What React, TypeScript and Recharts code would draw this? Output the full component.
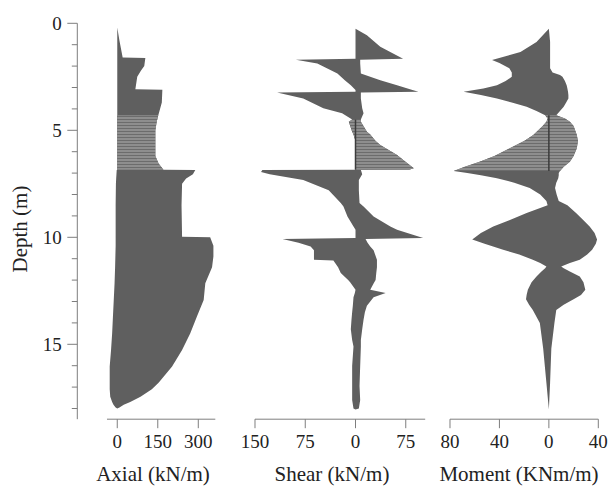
import React from 'react';
import { ComposedChart, Area, XAxis, YAxis, ReferenceLine } from 'recharts';

// depth axis (m), shared by the three panels
const depthTicks = [0, 1, 2, 3, 4, 5, 6, 7, 8, 9, 10, 11, 12, 13, 14, 15, 16, 17, 18];
const depthDomain = [0, 18.5];

// Axial (kN/m)
const axialDepth = [0.2, 0.8, 1.6, 1.62, 2.0, 2.2, 2.5, 3.08, 3.1, 3.7, 4.3, 4.6, 5.0, 6.2, 6.55, 6.84, 6.86, 7.05, 7.25, 7.5, 8.5, 9.98, 10.0, 10.4, 10.9, 11.4, 12.15, 12.93, 13.7, 14.5, 15.27, 16.04, 16.8, 17.1, 17.45, 17.7, 17.83, 17.95, 18.0];
const axialMin = [0, 0, 0, 0, 0, 0, 0, 0, 0, 0, 0, 0, 0, 0, 0, 0, -2, -3, -4, -5, -6, -6, -6, -6, -7, -8, -10, -13, -16, -19, -23, -28, -28, -28, -26, -19, -14, -6, 0];
const axialMax = [0, 8, 20, 104, 100, 88, 74, 67, 167, 165, 152, 146, 141, 141, 153, 171, 289, 280, 255, 240, 238, 240, 344, 356, 356, 351, 326, 320, 295, 270, 240, 203, 153, 128, 86, 48, 24, 8, 0];
const axialTicks = [0, 150, 300];
const axialHatch = [4.3, 6.84];

// Shear (kN/m)
const shearDepth = [0.25, 0.56, 1.1, 1.66, 1.7, 1.88, 2.35, 2.66, 2.9, 3.12, 3.2, 3.23, 3.51, 3.97, 4.2, 4.5, 4.6, 5.07, 5.2, 5.5, 5.69, 6.15, 6.5, 6.77, 6.84, 6.86, 6.95, 7.05, 7.32, 7.8, 8.4, 8.56, 9.03, 9.5, 9.65, 10.03, 10.08, 10.25, 10.43, 10.6, 11.05, 11.08, 11.4, 11.67, 12.0, 12.1, 12.45, 12.6, 12.8, 13.2, 13.5, 13.85, 14.3, 14.8, 15.1, 16.0, 16.95, 17.6, 18.0, 18.05];
const shearMin = [0, 0, 0, 0, -89, -57, -27, -16, -7, 0, 0, -117, -78, -48, -20, -5, -10, -5, -3, 0, 0, 0, 0, 0, 0, -139, -141, -128, -78, -40, -22, -18, -12, -3, 0, 0, -109, -85, -67, -62, -62, -33, -26, -22, -11, -8, 0, -1, -3, -4, -5, -6, -7, -5, -3, -5, -5, -5, -3, 0];
const shearMax = [0, 17, 37, 71, 7, 7, 8, 37, 62, 85, 94, 8, 8, 10, 12, 8, 8, 17, 22, 30, 37, 62, 76, 87, 80, 8, 9, 10, 5, 5, 6, 12, 27, 52, 62, 101, 15, 18, 22, 27, 32, 32, 32, 31, 30, 28, 22, 45, 27, 17, 14, 12, 10, 8, 8, 7, 6, 7, 5, 0];
const shearTicks = [-150, -75, 0, 75];
const shearHatch = [4.5, 6.84];

// Moment (KNm/m)
const momentDepth = [0.25, 0.87, 1.34, 1.72, 1.85, 2.1, 2.3, 2.42, 2.5, 2.7, 2.9, 3.05, 3.2, 3.35, 3.51, 3.7, 3.9, 4.1, 4.3, 4.45, 4.6, 4.8, 5.22, 5.5, 5.84, 6.2, 6.47, 6.7, 6.9, 7.0, 7.1, 7.24, 7.45, 7.7, 8.0, 8.3, 8.5, 8.87, 9.2, 9.5, 9.8, 10.1, 10.3, 10.58, 10.8, 11.05, 11.2, 11.36, 11.45, 11.6, 11.83, 12.1, 12.45, 12.7, 12.9, 13.15, 13.4, 14.0, 15.2, 16.8, 18.05];
const momentMin = [0, -10, -23, -46, -40, -32, -30, -30, -30, -35, -42, -53, -69, -55, -42, -30, -18, -10, -3, -1, -2, -5, -12.6, -20, -31.6, -44, -56, -68, -77, -66, -55, -42, -28, -15.5, -7, -2, -1, -18, -32, -45, -55, -62, -52, -37, -24, -13, -7, -2, -3, -6, -10, -14, -17, -18, -18.5, -16, -13, -7.3, -4.6, -2, 0];
const momentMax = [0, 1, 1, 1, 1, 1, 3, 9, 11, 13, 14.4, 15, 15.5, 15.8, 15.8, 14, 12, 9, 6, 13, 17, 20, 22.6, 23.5, 22.6, 20, 17, 12, 9, 8, 8, 7.6, 6, 5, 6.3, 8, 15, 22, 28, 33, 37, 39, 38, 35, 31, 25, 17, 10, 12, 17, 25, 28, 29.5, 26, 20, 12, 6, 4.5, 2, 1, 0];
const momentTicks = [-80, -40, 0, 40];
const momentHatch = [4.3, 6.9];

type Row = { d: number; lo: number; hi: number };
const toRows = (depth: number[], lo: number[], hi: number[]): Row[] =>
  depth.map((d, i) => ({ d, lo: lo[i], hi: hi[i] }));

const axialRows = toRows(axialDepth, axialMin, axialMax);
const shearRows = toRows(shearDepth, shearMin, shearMax);
const momentRows = toRows(momentDepth, momentMin, momentMax);

const W = 608;
const H = 487;
const TOP = 23.3;
const BOTTOM = 419.2;
const PAD = 20;
const FONT = "'Liberation Serif', 'Times New Roman', 'DejaVu Serif', serif";
const DARK = '#5f5f5f';
const AXIS = '#7d7d7d';
const TEXT = '#222';

const ValueTick = (props: any) => {
  const { x, y, payload } = props;
  return (
    <g>
      <line x1={x} x2={x} y1={y} y2={y + 9} stroke={AXIS} />
      <text x={x} y={y + 28.5} textAnchor="middle" style={{ fontFamily: FONT }} fontSize={19} fill={TEXT}>
        {Math.abs(payload.value)}
      </text>
    </g>
  );
};

const DepthTick = (props: any) => {
  const { x, y, payload } = props;
  const major = payload.value % 5 === 0;
  return (
    <g>
      <line x1={x} x2={x - (major ? 10 : 5.5)} y1={y} y2={y} stroke={AXIS} />
      {major && (
        <text x={x - 15.5} y={y + 6.5} textAnchor="end" style={{ fontFamily: FONT }} fontSize={19} fill={TEXT}>
          {payload.value}
        </text>
      )}
    </g>
  );
};

type PanelProps = {
  id: string;
  rows: Row[];
  domain: number[];
  ticks: number[];
  plotLeft: number;
  plotWidth: number;
  hatch: number[];
  zeroLine: boolean;
};

const Panel = ({ id, rows, domain, ticks, plotLeft, plotWidth, hatch, zeroLine }: PanelProps) => {
  const inHatch = (r: Row) => (r.d >= hatch[0] && r.d <= hatch[1] ? [r.lo, r.hi] : null);
  return (
    <div style={{ position: 'absolute', left: plotLeft - PAD, top: 0 }}>
      <ComposedChart
        layout="vertical"
        width={plotWidth + 2 * PAD}
        height={H}
        data={rows}
        margin={{ top: TOP, right: PAD, bottom: 0, left: PAD }}
      >
        <defs>
          <pattern id={`hatch-${id}`} width={6} height={3} patternUnits="userSpaceOnUse">
            <rect width={6} height={3} fill="#8e8e8e" />
            <rect y={2} width={6} height={1} fill="#6c6c6c" />
          </pattern>
        </defs>
        <XAxis
          type="number"
          domain={domain}
          ticks={ticks}
          interval={0}
          allowDataOverflow
          height={H - BOTTOM}
          axisLine={{ stroke: AXIS }}
          tickLine={false}
          tickSize={0}
          tickMargin={0}
          tick={(p: any) => <ValueTick {...p} />}
        />
        <YAxis type="number" dataKey="d" domain={depthDomain} allowDataOverflow hide />
        <Area
          type="linear"
          dataKey={(r: Row) => [r.lo, r.hi]}
          fill={DARK}
          fillOpacity={1}
          stroke="none"
          isAnimationActive={false}
        />
        <Area
          type="linear"
          dataKey={inHatch}
          fill={`url(#hatch-${id})`}
          fillOpacity={1}
          stroke="none"
          isAnimationActive={false}
        />
        {zeroLine && (
          <ReferenceLine
            segment={[
              { x: 0, y: hatch[0] },
              { x: 0, y: hatch[1] },
            ]}
            stroke="#3c3c3c"
            strokeWidth={1.5}
          />
        )}
      </ComposedChart>
    </div>
  );
};

export default function App() {
  return (
    <div style={{ position: 'absolute', left: 0, top: 0, width: W, height: H, background: '#fff', fontFamily: FONT }}>
      <div style={{ position: 'absolute', left: 0, top: 0 }}>
        <ComposedChart
          layout="vertical"
          width={100}
          height={H}
          data={axialRows}
          margin={{ top: TOP, right: 20, bottom: H - BOTTOM, left: 0 }}
        >
          <XAxis type="number" domain={[0, 1]} allowDataOverflow hide />
          <YAxis
            type="number"
            dataKey="d"
            domain={depthDomain}
            ticks={depthTicks}
            interval={0}
            allowDataOverflow
            width={77.3}
            axisLine={{ stroke: AXIS }}
            tickLine={false}
            tickSize={0}
            tickMargin={0}
            tick={(p: any) => <DepthTick {...p} />}
          />
          <Area dataKey="hi" fill="none" stroke="none" isAnimationActive={false} />
        </ComposedChart>
      </div>
      <Panel id="axial" rows={axialRows} domain={[-38, 363]} ticks={axialTicks} plotLeft={106.7} plotWidth={108.3} hatch={axialHatch} zeroLine={false} />
      <Panel id="shear" rows={shearRows} domain={[-150, 104]} ticks={shearTicks} plotLeft={254.5} plotWidth={170.2} hatch={shearHatch} zeroLine />
      <Panel id="moment" rows={momentRows} domain={[-80, 40]} ticks={momentTicks} plotLeft={450} plotWidth={148.3} hatch={momentHatch} zeroLine />
      <svg width={W} height={H} style={{ position: 'absolute', left: 0, top: 0, pointerEvents: 'none' }}>
        <g style={{ fontFamily: FONT }} fontSize={21} fill={TEXT} textAnchor="middle">
          <text x={153} y={481}>Axial (kN/m)</text>
          <text x={332} y={481}>Shear (kN/m)</text>
          <text x={519} y={481}>Moment (KNm/m)</text>
          <text x={27} y={229} transform="rotate(-90 27 229)">Depth (m)</text>
        </g>
      </svg>
    </div>
  );
}
